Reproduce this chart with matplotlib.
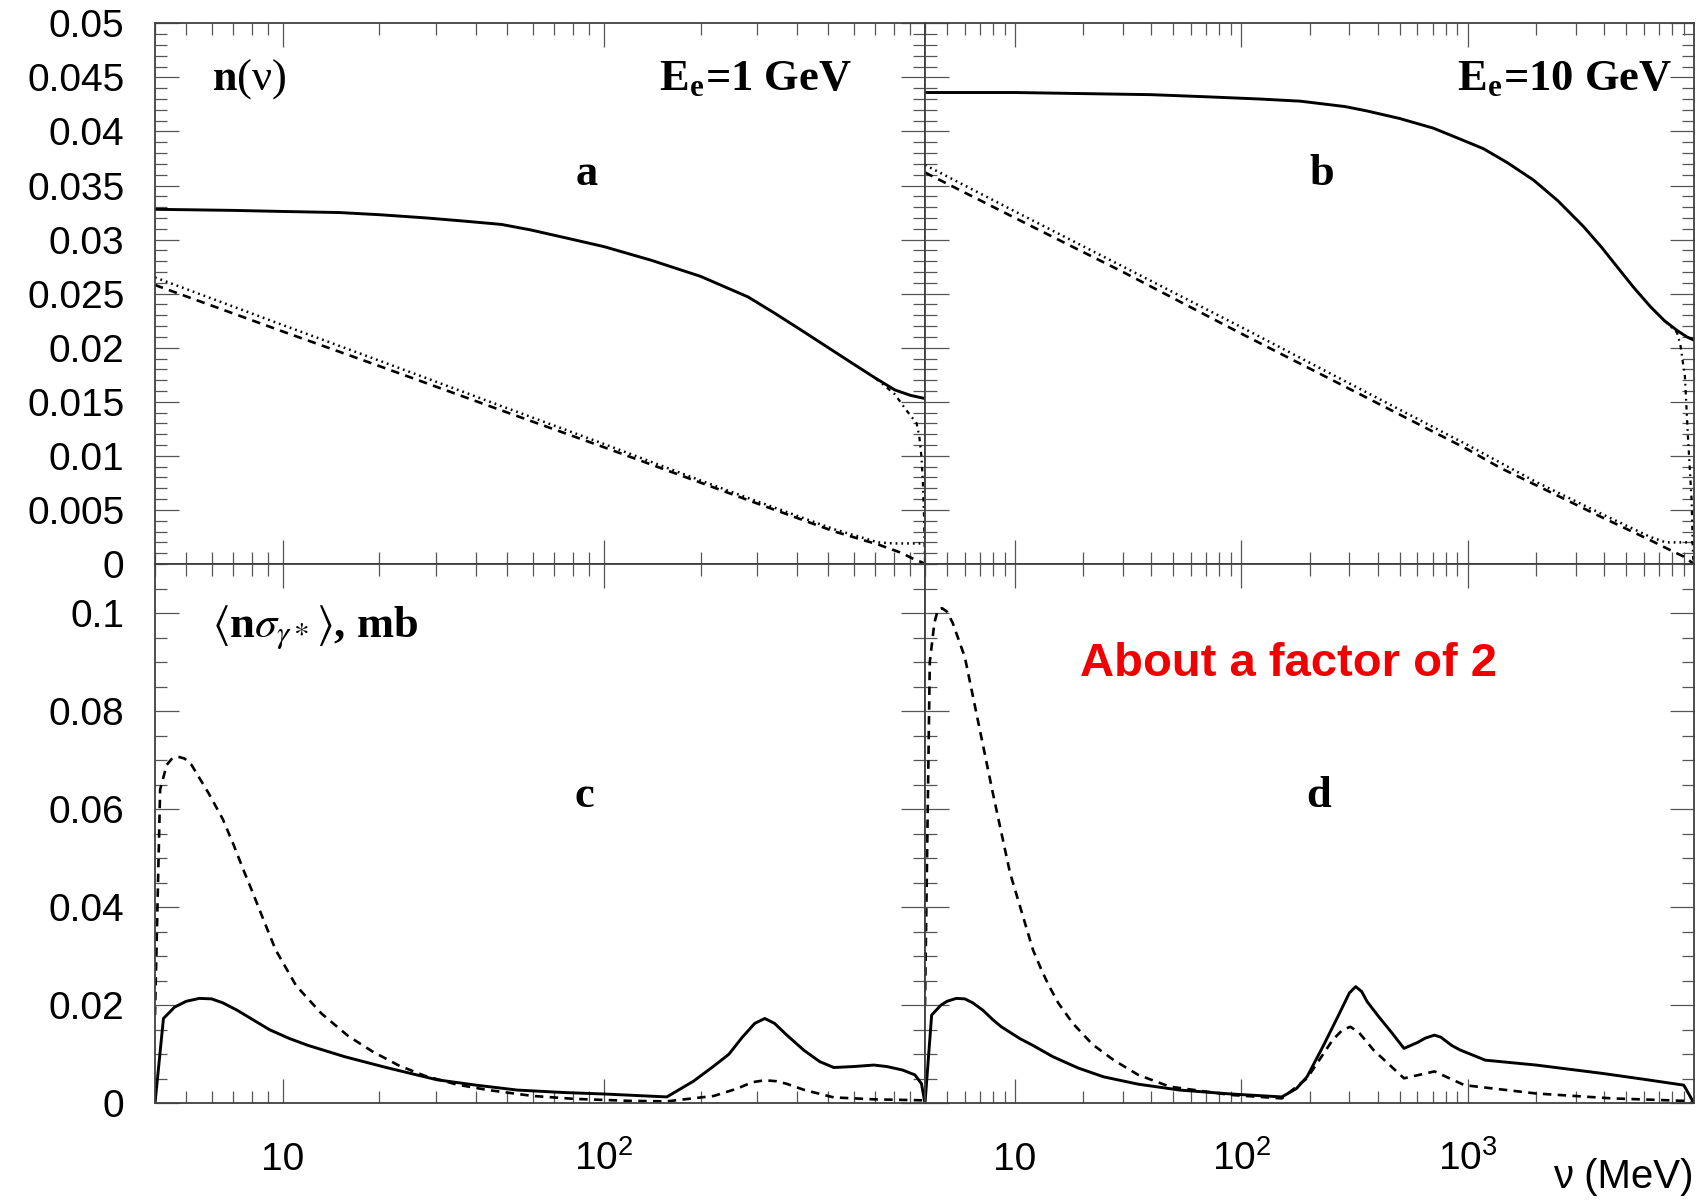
#!/usr/bin/env python3
"""photon flux n(nu) and <n sigma> for E_e = 1 and 10 GeV, four panels"""

import matplotlib
matplotlib.use("Agg")
import matplotlib.pyplot as plt
from matplotlib.ticker import (FixedLocator, LogLocator, MultipleLocator,
                               FuncFormatter, NullFormatter)

# ---- panel a: n(nu), E_e = 1 GeV ----
nu_a_solid = [4, 7, 10, 15, 20, 28, 37, 48, 59, 75, 100, 140, 200, 281, 340,
              413, 500, 591, 700, 805, 900, 1000]
n_a_solid = [0.0328, 0.0327, 0.0326, 0.0325, 0.0323, 0.0320, 0.0317, 0.0314,
             0.0309, 0.0302, 0.02935, 0.0281, 0.0266, 0.0247, 0.0232, 0.0216,
             0.0200, 0.0186, 0.0172, 0.0161, 0.0156, 0.0153]
nu_a_dash = [4, 10, 20, 48, 100, 201, 300, 523, 715, 850, 929, 970, 1000]
n_a_dash = [0.0258, 0.0215, 0.0183, 0.0142, 0.0108, 0.0075, 0.0056, 0.0030,
            0.0018, 0.0010, 0.0004, 0.0002, 0.0]
nu_a_dot = [4, 10, 20, 48, 100, 201, 300, 523, 715, 800, 1000]
n_a_dot = [0.0265, 0.0221, 0.0188, 0.0146, 0.0111, 0.0077, 0.0058, 0.0032,
           0.0020, 0.0019, 0.0019]
nu_a_dd = [700, 805, 876, 942, 960, 975, 985, 993, 1000]
n_a_dd = [0.0172, 0.0157, 0.0142, 0.0130, 0.0118, 0.0099, 0.0075, 0.0044, 0.0]

# ---- panel b: n(nu), E_e = 10 GeV ----
nu_b_solid = [4, 10, 20, 40, 71, 120, 182, 287, 358, 500, 706, 900, 1175, 1500,
              1955, 2500, 3251, 3900, 4566, 5400, 6415, 7400, 8414, 9300, 10000]
n_b_solid = [0.0436, 0.0436, 0.0435, 0.0434, 0.0432, 0.0430, 0.0428, 0.0423,
             0.0419, 0.0412, 0.0403, 0.0394, 0.0384, 0.0371, 0.0355, 0.0336,
             0.0312, 0.0293, 0.0275, 0.0256, 0.0238, 0.0225, 0.0216, 0.0210,
             0.0207]
nu_b_dash = [4, 10, 15.5, 30, 100, 300, 1000, 1390, 2000, 3846, 6415, 8000,
             8970, 10000]
n_b_dash = [0.0362, 0.0320, 0.0300, 0.0270, 0.0213, 0.0162, 0.0106, 0.0089,
            0.0073, 0.0044, 0.0022, 0.0012, 0.0007, 0.0]
nu_b_dot = [4, 10, 30, 100, 300, 1000, 2000, 3846, 6415, 7500, 10000]
n_b_dot = [0.0369, 0.0326, 0.0275, 0.0219, 0.0167, 0.0110, 0.0076, 0.0047,
           0.0025, 0.0020, 0.0020]
nu_b_dd = [7400, 8414, 8700, 9120, 9400, 9760, 9900, 10000]
n_b_dd = [0.0225, 0.0214, 0.0203, 0.0173, 0.0118, 0.0059, 0.0007, 0.0]

# ---- panel c: <n sigma>, E_e = 1 GeV ----
nu_c_solid = [4.0, 4.25, 4.6, 5.0, 5.5, 6.0, 6.5, 7.2, 8.0, 9.1, 10.5, 12, 15.6,
              21, 30.2, 40, 53.7, 75, 100, 157, 190, 219, 245, 270, 295, 317,
              340, 370, 420, 470, 520, 600, 693, 760, 850, 930, 975, 1000]
s_c_solid = [0.0, 0.0173, 0.0196, 0.0208, 0.0214, 0.0213, 0.0205, 0.0190,
             0.0172, 0.0150, 0.0132, 0.0118, 0.0095, 0.0073, 0.0048, 0.0037,
             0.0027, 0.0022, 0.0019, 0.0013, 0.0045, 0.0075, 0.0100, 0.0135,
             0.0163, 0.0173, 0.0163, 0.0140, 0.0108, 0.0085, 0.0073, 0.0075,
             0.0078, 0.0075, 0.0068, 0.0058, 0.0040, 0.0]
nu_c_dash = [4.0, 4.15, 4.35, 4.5, 4.72, 4.95, 5.2, 5.88, 6.5, 7.0, 7.5, 8.0,
             8.7, 9.5, 11, 13.2, 16, 19.1, 23, 27.7, 35, 43.6, 60, 81, 120, 157,
             220, 260, 290, 317, 345, 370, 422, 520, 700, 1000]
s_c_dash = [0.018, 0.064, 0.069, 0.0702, 0.0707, 0.0703, 0.0690, 0.0632,
            0.0580, 0.0530, 0.0480, 0.0435, 0.0375, 0.0313, 0.0240, 0.0183,
            0.0137, 0.0105, 0.0077, 0.0056, 0.0038, 0.0027, 0.0015, 0.0009,
            0.0005, 0.0004, 0.0015, 0.0030, 0.0043, 0.0047, 0.0045, 0.0040,
            0.0027, 0.0012, 0.0008, 0.0006]

# ---- panel d: <n sigma>, E_e = 10 GeV ----
nu_d_solid = [4.0, 4.28, 4.7, 5.0, 5.5, 6.0, 6.5, 7.2, 8.0, 8.7, 10.5, 12,
              14.7, 19, 24.6, 35, 53.4, 90, 151, 175, 195, 230, 267, 300, 320,
              340, 360, 404, 460, 523, 600, 650, 713, 760, 850, 923, 1196, 2006,
              3934, 6000, 9016, 10000]
s_d_solid = [0.0, 0.0180, 0.0200, 0.0208, 0.0214, 0.0213, 0.0205, 0.0190,
             0.0170, 0.0156, 0.0132, 0.0118, 0.0095, 0.0072, 0.0054, 0.0039,
             0.0027, 0.0019, 0.0013, 0.0030, 0.0054, 0.0117, 0.0177, 0.0225,
             0.0238, 0.0228, 0.0207, 0.0177, 0.0145, 0.0112, 0.0124, 0.0133,
             0.0139, 0.0135, 0.0118, 0.0109, 0.0088, 0.0078, 0.0061, 0.0049,
             0.0037, 0.0]
nu_d_dash = [4.0, 4.2, 4.4, 4.55, 4.75, 5.0, 5.3, 6.0, 7.0, 8.0, 9.5, 10.7,
             12.0, 13.0, 14.0, 15.5, 18.0, 22, 27.3, 35, 48.2, 89.8, 151, 195,
             253, 280, 303, 330, 383, 523, 713, 968, 2006, 4362, 9016, 10000]
s_d_dash = [0.02, 0.090, 0.098, 0.1005, 0.101, 0.1003, 0.098, 0.091, 0.076,
            0.063, 0.047, 0.039, 0.0313, 0.0275, 0.0243, 0.0205, 0.0163,
            0.0120, 0.0088, 0.0058, 0.0034, 0.0017, 0.0010, 0.0051, 0.0129,
            0.0150, 0.0156, 0.0145, 0.0109, 0.0051, 0.0065, 0.0037, 0.0020,
            0.0010, 0.0005, 0.0]

# tick labels
xtick_vals = [10, 100, 1000]
xtick_text = ["10", r"$\mathdefault{10^{2}}$", r"$\mathdefault{10^{3}}$"]

plt.rcParams["font.family"] = ["Liberation Sans", "DejaVu Sans"]
plt.rcParams["mathtext.fontset"] = "stix"

W, H = 1698, 1202
fig = plt.figure(figsize=(W / 100, H / 100), dpi=100)

SERIF = ["Liberation Serif", "DejaVu Serif"]
SOLID = dict(color="black", linewidth=2.1, linestyle="-")
DASH = dict(color="black", linewidth=1.9, linestyle=(0, (3.2, 2.4)))
DOT = dict(color="black", linewidth=1.8, linestyle=(0, (0.7, 1.6)))
DASHDOT = dict(color="black", linewidth=1.6, linestyle=(0, (2, 2, 0.8, 2)))


def add_panel(x0, x1, y0, y1):
    """axes from pixel box (top-left origin)."""
    return fig.add_axes([x0 / W, 1 - y1 / H, (x1 - x0) / W, (y1 - y0) / H])


def style(ax, xmax, ymax, ymajor, yminor, xmajor, show_x, show_y):
    ax.set_xscale("log")
    ax.set_xlim(4, xmax)
    ax.set_ylim(0, ymax)
    ax.xaxis.set_major_locator(FixedLocator(xmajor))
    ax.xaxis.set_minor_locator(LogLocator(base=10, subs=range(2, 10), numticks=30))
    ax.xaxis.set_minor_formatter(NullFormatter())
    labels = dict(zip(xtick_vals, xtick_text))
    ax.xaxis.set_major_formatter(FuncFormatter(lambda v, p: labels.get(int(round(v)), "")))
    ax.yaxis.set_major_locator(MultipleLocator(ymajor))
    ax.yaxis.set_minor_locator(MultipleLocator(yminor))
    ax.yaxis.set_major_formatter(FuncFormatter(lambda v, p: f"{v:g}"))
    ax.tick_params(which="both", direction="in", top=True, right=True,
                   color="#555555", width=0.9, labelsize=28,
                   labelbottom=show_x, labelleft=show_y)
    ax.tick_params(which="major", length=17)
    ax.tick_params(which="minor", length=8.5)
    ax.tick_params(axis="y", pad=22)
    ax.tick_params(axis="x", pad=48)
    for sp in ax.spines.values():
        sp.set_color("#404040")
        sp.set_linewidth(1.3)
    if show_x:
        for lab in ax.get_xticklabels():
            lab.set_verticalalignment("baseline")


ax_a = add_panel(155, 925, 23.3, 564)
ax_b = add_panel(925, 1694, 23.3, 564)
ax_c = add_panel(155, 925, 564, 1103.3)
ax_d = add_panel(925, 1694, 564, 1103.3)

style(ax_a, 1000, 0.05, 0.005, 0.001, [10, 100], False, True)
style(ax_b, 10000, 0.05, 0.005, 0.001, [10, 100, 1000], False, False)
style(ax_c, 1000, 0.11, 0.02, 0.005, [10, 100], True, True)
style(ax_d, 10000, 0.11, 0.02, 0.005, [10, 100, 1000], True, False)

# curves
ax_a.plot(nu_a_dot, n_a_dot, **DOT)
ax_a.plot(nu_a_dash, n_a_dash, **DASH)
ax_a.plot(nu_a_dd, n_a_dd, **DASHDOT)
ax_a.plot(nu_a_solid, n_a_solid, **SOLID)

ax_b.plot(nu_b_dot, n_b_dot, **DOT)
ax_b.plot(nu_b_dash, n_b_dash, **DASH)
ax_b.plot(nu_b_dd, n_b_dd, **DASHDOT)
ax_b.plot(nu_b_solid, n_b_solid, **SOLID)

ax_c.plot(nu_c_dash, s_c_dash, **DASH)
ax_c.plot(nu_c_solid, s_c_solid, **SOLID)

ax_d.plot(nu_d_dash, s_d_dash, **DASH)
ax_d.plot(nu_d_solid, s_d_solid, **SOLID)

# labels
lab = dict(family=SERIF, weight="bold", fontsize=32, va="baseline")
ax_a.text(0.074, 0.877, r"$\mathbf{n}$(ν)", transform=ax_a.transAxes,
          ha="left", family=SERIF, fontsize=32, va="baseline")
ax_a.text(0.905, 0.877, r"E$_{\mathdefault{e}}$=1 GeV", transform=ax_a.transAxes,
          ha="right", **lab)
ax_b.text(0.971, 0.877, r"E$_{\mathdefault{e}}$=10 GeV", transform=ax_b.transAxes,
          ha="right", **lab)
ax_a.text(0.560, 0.701, "a", transform=ax_a.transAxes, ha="center", **lab)
ax_b.text(0.516, 0.701, "b", transform=ax_b.transAxes, ha="center", **lab)
ax_c.text(0.074, 0.865, r"$\langle$n$\sigma_{\gamma*}\rangle$, mb",
          transform=ax_c.transAxes, ha="left", **lab)
ax_c.text(0.558, 0.549, "c", transform=ax_c.transAxes, ha="center", **lab)
ax_d.text(0.512, 0.549, "d", transform=ax_d.transAxes, ha="center", **lab)

ax_d.text(0.473, 0.815, "About a factor of 2", transform=ax_d.transAxes,
          ha="center", va="center", color="#f00000", fontsize=34,
          fontweight="bold", family=["Liberation Sans", "DejaVu Sans"])

fig.text(1694 / W, 1 - 1188 / H, "ν (MeV)", ha="right", va="baseline",
         fontsize=29)

fig.savefig("out.png", dpi=100)
